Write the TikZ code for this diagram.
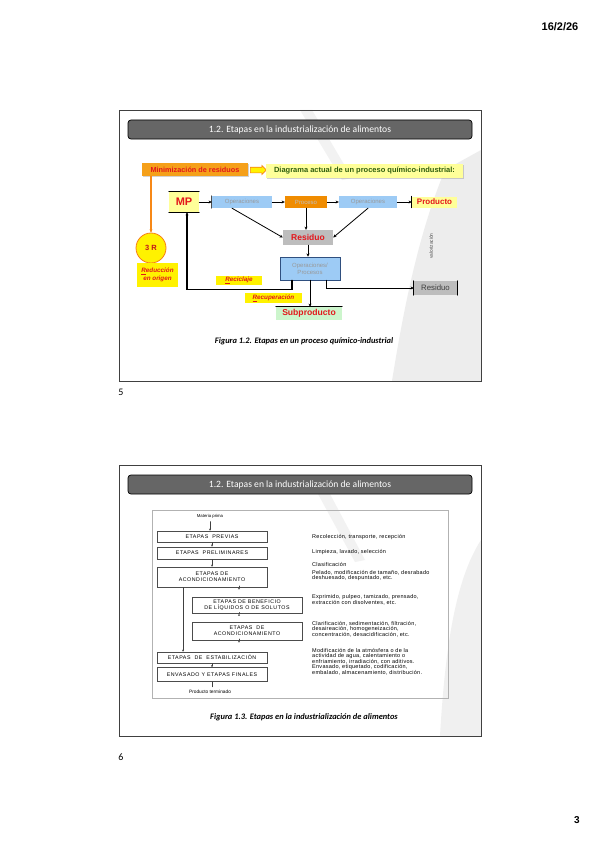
\documentclass[tikz,border=0pt]{standalone}
\usepackage{fontspec}
\setmainfont{Carlito}
\newfontfamily\arialf{Liberation Sans}
\usepackage{tikz}
\usetikzlibrary{arrows.meta,shapes.arrows,calc,shadows}
\definecolor{amarillo}{HTML}{FFF200}
\definecolor{amarclaro}{HTML}{FFFF99}
\definecolor{naranja}{HTML}{F5A01A}
\definecolor{naranjafuerte}{HTML}{F08C00}
\definecolor{rojo}{HTML}{E3161B}
\definecolor{rojooscuro}{HTML}{C0141C}
\definecolor{verdeosc}{HTML}{2E5E0E}
\definecolor{celeste}{HTML}{9DCBF5}
\definecolor{azuloscuro}{HTML}{2F4F7F}
\definecolor{gris}{HTML}{BDBDBD}
\definecolor{verdeclaro}{HTML}{CCF5CC}

\begin{document}
\begin{tikzpicture}[x=1pt,y=-1pt,>={Stealth[length=3.2pt,width=3pt]},line cap=round,
  marco/.style={draw=black!75,line width=0.7pt},
  barra/.style={draw=black,fill=black!60,rounded corners=3pt,line width=0.7pt,minimum width=344pt,minimum height=19pt,inner sep=0pt,text=white,font=\fontsize{9.6}{11}\selectfont},
  caja/.style={inner sep=0pt,align=center,font=\arialf\bfseries\fontsize{7}{8}\selectfont},
  etiq/.style={caja,fill=amarillo,text=rojo,font=\arialf\bfseries\itshape\fontsize{6.3}{7.6}\selectfont},
  azul/.style={caja,fill=celeste,text=black!40,font=\arialf\fontsize{6}{6.8}\selectfont},
  flecha/.style={->,line width=0.8pt},
  etapa/.style={draw=black!70,line width=0.5pt,inner sep=0pt,minimum width=110pt,align=center,font=\arialf\fontsize{5.3}{6.2}\selectfont\addfontfeatures{LetterSpace=10}},
  desc/.style={anchor=west,inner sep=0pt,align=left,font=\arialf\fontsize{5.5}{4.9}\selectfont\addfontfeatures{LetterSpace=5}},
  fina/.style={->,>={Stealth[length=2.2pt,width=2pt]},line width=0.45pt,black!75},
  pie/.style={font=\bfseries\itshape\fontsize{8.4}{10}\selectfont}]
\useasboundingbox[fill=white] (0,0) rectangle (599,848);
\fill[black!7] (392,381) .. controls (405,300) and (420,230) .. (445,170) -- (481,150) -- (481,381) -- cycle;
\fill[black!5] (300,110) -- (312,110) -- (352,178) -- (342,180) -- cycle;
\fill[black!6] (440,736) .. controls (445,650) and (455,580) .. (481,540) -- (481,736) -- cycle;
\fill[black!5] (318,494) -- (330,494) -- (365,560) -- (355,562) -- cycle;
\node[font=\arialf\bfseries\fontsize{11}{12}\selectfont] (fecha) at (560,27) {16/2/26};
\node[font=\arialf\bfseries\fontsize{10}{11}\selectfont] (hoja) at (577,820) {3};
\node[font=\fontsize{10}{11}\selectfont] (num5) at (121,392) {5};
\node[font=\fontsize{10}{11}\selectfont] (num6) at (121,757) {6};
\draw[marco] (119,110) rectangle (481,381);
\node[barra] (titulo1) at (300,129.5) {1.2. Etapas en la industrialización de alimentos};
\node[caja,fill=naranja,text=rojo,minimum width=106pt,minimum height=13pt,font=\arialf\bfseries\fontsize{7.3}{8}\selectfont,drop shadow={shadow xshift=1.2pt,shadow yshift=-1.2pt,opacity=0.35}] (minim) at (195,169.5) {Minimización de residuos};
\node[single arrow,draw=naranja!80!red,fill=amarillo,minimum height=16pt,inner sep=2.5pt,single arrow head extend=1.8pt,line width=0.6pt] (flechagorda) at (257,170) {};
\node[caja,fill=amarclaro,text=verdeosc,minimum width=197pt,minimum height=14pt,font=\arialf\bfseries\fontsize{7.5}{8}\selectfont,drop shadow={shadow xshift=1.2pt,shadow yshift=-1.2pt,opacity=0.35}] (diagrama) at (364.5,171) {Diagrama actual de un proceso químico-industrial:};
\node[circle,draw=naranja!80!red,fill=amarillo,line width=0.8pt,minimum size=30pt,inner sep=0pt,text=rojooscuro,font=\arialf\bfseries\fontsize{7.5}{8}\selectfont] (tresR) at (151,248) {3 R};
\node[etiq,minimum width=41pt,minimum height=24pt] (reduccion) at (157.5,275) {\underline{R}educción\\en origen};
\draw[->,line width=1.4pt,naranja!85!red] (minim.south -| tresR) -- (tresR.north);
\node[caja,fill=amarclaro,text=rojo,minimum width=30pt,minimum height=20pt,font=\arialf\bfseries\fontsize{11}{12}\selectfont] (MP) at (184,202) {MP};
\draw[line width=0.8pt] (MP.north west) -- (MP.north east) (MP.south west) -- (MP.south east);
\node[azul,minimum width=60pt,minimum height=12pt] (ops1) at (242,202) {Operaciones};
\draw[line width=0.8pt,black!70] (ops1.north west) -- (ops1.south west);
\node[caja,fill=naranjafuerte,text=white!75!black,font=\arialf\fontsize{6}{6.8}\selectfont,minimum width=42pt,minimum height=12pt] (proceso) at (306,202) {Proceso};
\node[azul,minimum width=58pt,minimum height=12pt] (ops2) at (368,202) {Operaciones};
\node[caja,fill=amarclaro,text=rojo,minimum width=45pt,minimum height=11pt,font=\arialf\bfseries\fontsize{8}{9}\selectfont] (producto) at (434.5,202) {Producto};
\draw[line width=1pt] (producto.north west) -- (producto.south west);
\draw[flecha] (MP.east) -- (ops1.west);
\draw[flecha] (ops1.east) -- (proceso.west);
\draw[flecha] (proceso.east) -- (ops2.west);
\draw[flecha] (ops2.east) -- (producto.west);
\node[caja,fill=gris,text=rojo,minimum width=50pt,minimum height=15pt,font=\arialf\bfseries\fontsize{8.5}{9}\selectfont] (residuo) at (308,237.5) {Residuo};
\draw[flecha] ($(ops1.south)+(-10,0)$) -- (residuo.west);
\draw[flecha] (proceso.south) -- (proceso.south |- residuo.north);
\draw[flecha] (ops2.south) -- (residuo.east);
\node[azul,draw=azuloscuro,line width=0.7pt,minimum width=60pt,minimum height=23pt] (opsproc) at (310,268.5) {Operaciones/\\Procesos};
\draw[flecha] (residuo.south) -- (residuo.south |- opsproc.north);
\node[caja,fill=verdeclaro,text=rojo,minimum width=66pt,minimum height=13pt,font=\arialf\bfseries\fontsize{8.6}{9}\selectfont] (subprod) at (309,313.5) {Subproducto};
\draw[line width=0.8pt] (subprod.north west) -- (subprod.north east);
\node[caja,fill=gris,text=black!75,font=\arialf\fontsize{7.8}{8}\selectfont,minimum width=43pt,minimum height=14pt] (residuo2) at (435.5,288) {Residuo};
\draw[line width=0.8pt] (residuo2.north west) -- (residuo2.south west) (residuo2.north east) -- (residuo2.south east);
\draw[->,line width=1.3pt] ($(opsproc.south)+(-18,0)$) -- ++(0,9) -| ($(MP.south)+(3,0)$);
\draw[flecha] (opsproc.south) -- (opsproc.south |- subprod.north);
\draw[flecha] ($(opsproc.south)+(16,0)$) |- (residuo2.west);
\node[etiq,minimum width=46pt,minimum height=9pt] (reciclaje) at (239,280.5) {\underline{R}eciclaje};
\node[etiq,minimum width=57pt,minimum height=10pt] (recuperacion) at (273.5,298) {\underline{R}ecuperación};
\node[rotate=90,font=\arialf\fontsize{4.8}{5}\selectfont,text=black!70] (valoriz) at (431,246) {valorización};
\node[pie] (pie1) at (304,341) {Figura 1.2. Etapas en un proceso químico-industrial};
\draw[marco] (119,465) rectangle (481,736);
\node[barra] (titulo2) at (300,484.5) {1.2. Etapas en la industrialización de alimentos};
\draw[black!30,line width=0.6pt] (152,510) rectangle (448,698);
\node[font=\arialf\fontsize{4.3}{5}\selectfont] (matprima) at (210,516) {Materia prima};
\node[etapa,minimum height=11pt] (previas) at (212,536.5) {ETAPAS\ \ PREVIAS};
\node[etapa,minimum height=12pt,line width=0.8pt] (prelim) at (212,553) {ETAPAS\ \ PRELIMINARES};
\node[etapa,minimum height=20pt] (acond1) at (212,577) {ETAPAS DE\\ACONDICIONAMIENTO};
\node[etapa,minimum height=16pt] (benef) at (247,605.5) {ETAPAS DE BENEFICIO\\DE LÍQUIDOS O DE SOLUTOS};
\node[etapa,minimum height=18pt] (acond2) at (247,631) {ETAPAS\ \ DE\\ACONDICIONAMIENTO};
\node[etapa,minimum height=11pt] (estab) at (212,657.5) {ETAPAS\ \ DE\ \ ESTABILIZACIÓN};
\node[etapa,minimum height=14pt] (envas) at (212,674.5) {ENVASADO Y ETAPAS FINALES};
\node[font=\arialf\fontsize{4.8}{5}\selectfont] (prodterm) at (210,692) {Producto terminado};
\draw[fina] (matprima.south) -- (matprima.south |- previas.north);
\draw[fina] (previas.south) -- (prelim.north);
\draw[fina] (prelim.south) -- (acond1.north);
\draw[fina] ($(acond1.south)+(-29,0)$) -- ($(estab.north)+(-29,0)$);
\draw[fina] ($(acond1.south)+(27,0)$) -- ($(acond1.south)+(27,0)$ |- benef.north);
\draw[fina] ($(benef.south)+(-8,0)$) -- ($(benef.south)+(-8,0)$ |- acond2.north);
\draw[fina] ($(acond2.south)+(-8,0)$) -- ($(acond2.south)+(-8,0)$ |- estab.north);
\draw[fina] (estab.south) -- (envas.north);
\draw[line width=0.8pt,black!75] (envas.south) -- (envas.south |- prodterm.north);
\node[desc] (d1) at (312,537) {Recolección, transporte, recepción};
\node[desc] (d2) at (312,552) {Limpieza, lavado, selección};
\node[desc] (d3) at (312,564) {Clasificación};
\node[desc] (d4) at (312,575.5) {Pelado, modificación de tamaño, desrabado\\deshuesado, despuntado, etc.};
\node[desc] (d5) at (312,600) {Exprimido, pulpeo, tamizado, prensado,\\extracción con disolventes, etc.};
\node[desc] (d6) at (312,629) {Clarificación, sedimentación, filtración,\\desaireación, homogeneización,\\concentración, desacidificación, etc.};
\node[desc] (d7) at (312,656) {Modificación de la atmósfera o de la\\actividad de agua, calentamiento o\\enfriamiento, irradiación, con aditivos.};
\node[desc] (d8) at (312,669.5) {Envasado, etiquetado, codificación,\\embalado, almacenamiento, distribución.};
\node[pie] (pie2) at (304,717) {Figura 1.3. Etapas en la industrialización de alimentos};
\end{tikzpicture}
\end{document}
